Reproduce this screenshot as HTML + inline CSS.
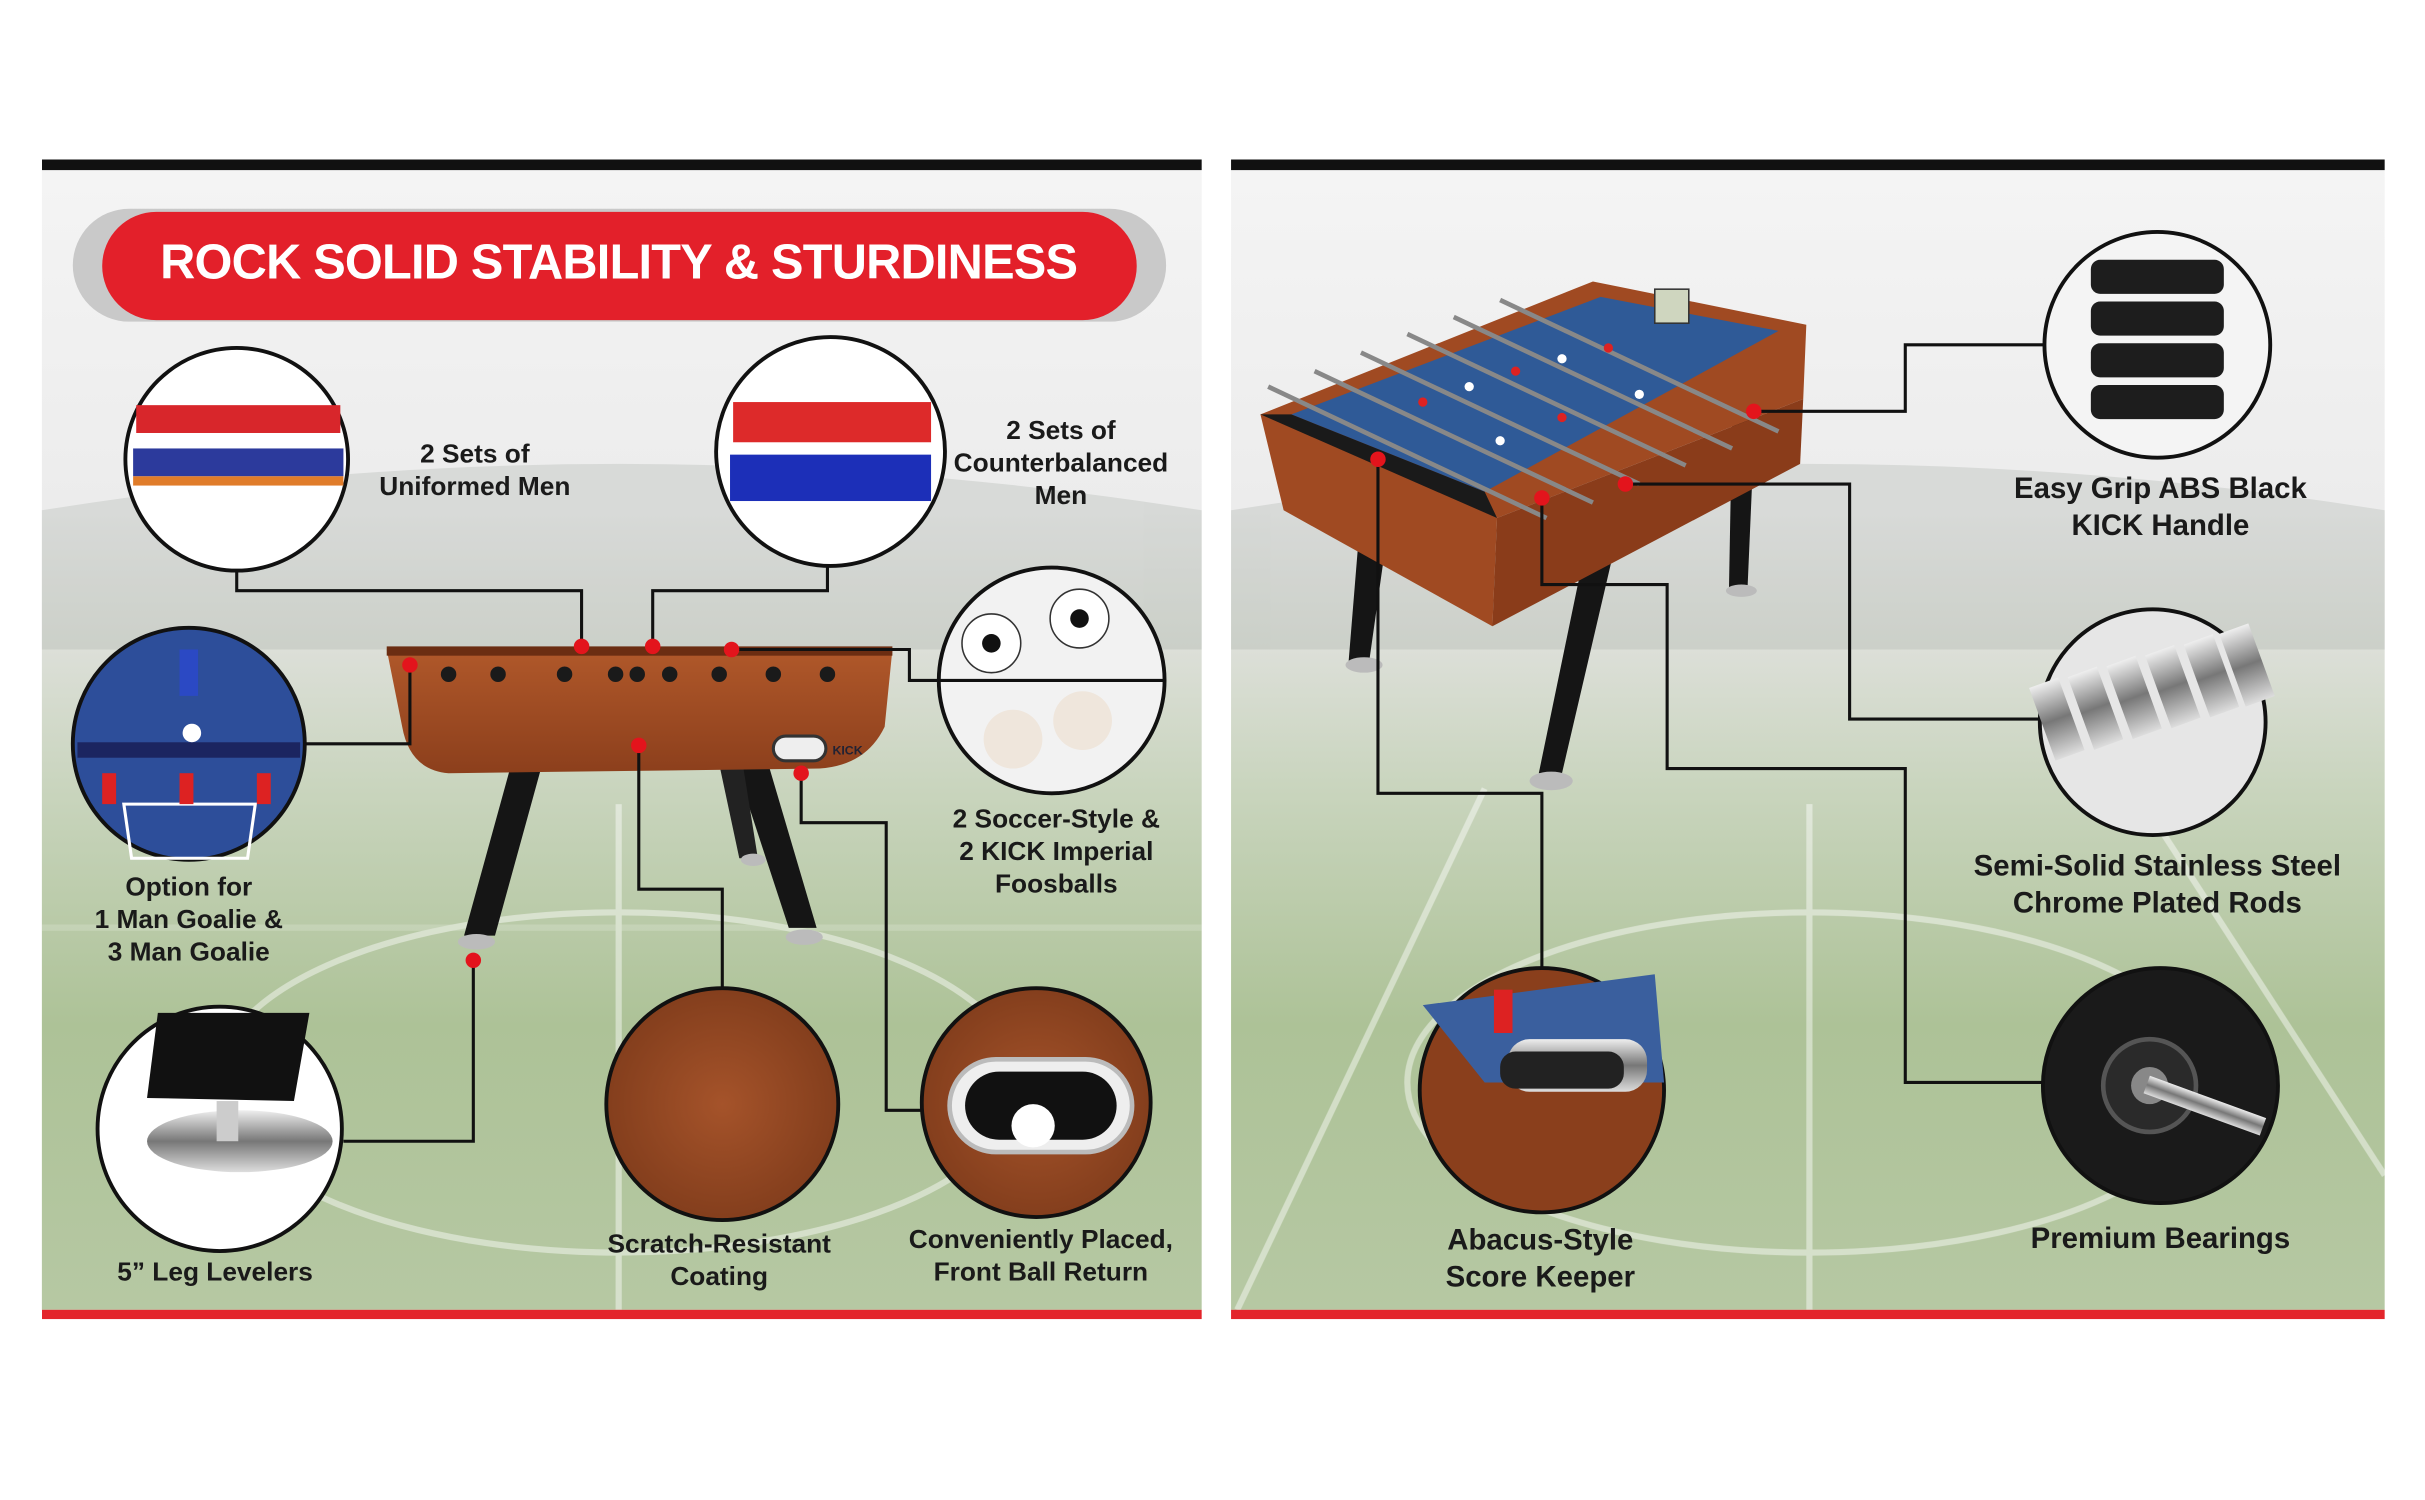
<!DOCTYPE html>
<html><head><meta charset="utf-8"><style>
html,body{margin:0;padding:0;background:#fff;}
svg{display:block;}
text{font-family:"Liberation Sans",sans-serif;font-weight:bold;fill:#1a1a1a;text-anchor:middle;}
</style></head><body>
<svg width="2425" height="1500" viewBox="0 0 1568 970" xmlns="http://www.w3.org/2000/svg">
<defs>
<linearGradient id="bg" x1="0" y1="0" x2="0" y2="1">
<stop offset="0" stop-color="#f4f4f4"/>
<stop offset="0.3" stop-color="#ececec"/>
<stop offset="0.42" stop-color="#dcdfd8"/>
<stop offset="0.55" stop-color="#c8d4bc"/>
<stop offset="0.75" stop-color="#adc297"/>
<stop offset="1" stop-color="#b6c8a3"/>
</linearGradient>
<linearGradient id="wood" x1="0" y1="0" x2="0" y2="1">
<stop offset="0" stop-color="#b0582a"/><stop offset="1" stop-color="#8c3f1c"/>
</linearGradient>
<radialGradient id="woodR" cx="0.5" cy="0.5" r="0.6">
<stop offset="0" stop-color="#a5532a"/><stop offset="1" stop-color="#7d3a1a"/>
</radialGradient>
<linearGradient id="chrome" x1="0" y1="0" x2="0" y2="1">
<stop offset="0" stop-color="#eee"/><stop offset="0.5" stop-color="#777"/><stop offset="1" stop-color="#ddd"/>
</linearGradient>
<clipPath id="cL"><rect x="27" y="110" width="750" height="737"/></clipPath>
<clipPath id="cR"><rect x="796" y="110" width="746" height="737"/></clipPath>
</defs>

<rect x="27" y="110" width="750" height="737" fill="url(#bg)"/>
<rect x="796" y="110" width="746" height="737" fill="url(#bg)"/>
<g opacity="0.25">
<path d="M27 330 Q400 270 777 330 L777 420 L27 420Z" fill="#9aa39a"/>
<path d="M796 330 Q1170 270 1542 330 L1542 420 L796 420Z" fill="#9aa39a"/>
</g>
<g stroke="#fff" stroke-width="4" fill="none" opacity="0.45">
<g clip-path="url(#cL)">
<ellipse cx="400" cy="700" rx="260" ry="110"/>
<line x1="400" y1="520" x2="400" y2="847"/>
<line x1="27" y1="600" x2="777" y2="600" opacity="0.4"/>
</g>
<g clip-path="url(#cR)">
<ellipse cx="1170" cy="700" rx="260" ry="110"/>
<line x1="1170" y1="520" x2="1170" y2="847"/>
<line x1="960" y1="510" x2="800" y2="847"/>
<line x1="1380" y1="510" x2="1542" y2="760"/>
</g>
</g>
<rect x="27" y="103" width="750" height="7" fill="#111"/>
<rect x="796" y="103" width="746" height="7" fill="#111"/>
<rect x="27" y="847" width="750" height="6" fill="#e3252b"/>
<rect x="796" y="847" width="746" height="6" fill="#e3252b"/>

<rect x="47" y="135" width="707" height="73" rx="36.5" fill="#c9c9c9"/>
<rect x="66" y="137" width="669" height="70" rx="35" fill="#e3202a"/>
<text x="400" y="180" font-size="31.5" style="fill:#fff" letter-spacing="-0.5">ROCK SOLID STABILITY &amp; STURDINESS</text>

<g>
<polygon points="335,478 355,478 320,605 300,605" fill="#151515"/>
<polygon points="470,478 492,478 528,600 510,600" fill="#151515"/>
<polygon points="462,480 478,480 490,555 478,555" fill="#222"/>
<ellipse cx="308" cy="609" rx="12" ry="5" fill="#bbb"/>
<ellipse cx="520" cy="606" rx="12" ry="5" fill="#bbb"/>
<ellipse cx="487" cy="556" rx="8" ry="4" fill="#bbb"/>
<path d="M250 420 L577 420 L572 470 Q560 495 530 497 L290 500 Q265 498 260 470 Z" fill="url(#wood)"/>
<rect x="250" y="418" width="327" height="6" fill="#6b2d12"/>
<g fill="#1a1a1a">
<circle cx="290" cy="436" r="5"/><circle cx="322" cy="436" r="5"/><circle cx="365" cy="436" r="5"/>
<circle cx="398" cy="436" r="5"/><circle cx="433" cy="436" r="5"/><circle cx="465" cy="436" r="5"/>
<circle cx="500" cy="436" r="5"/><circle cx="535" cy="436" r="5"/><circle cx="412" cy="436" r="5"/>
</g>
<rect x="500" y="476" width="34" height="16" rx="8" fill="#eee" stroke="#333" stroke-width="2"/>
<text x="548" y="488" font-size="8" style="fill:#223">KICK</text>
</g>

<g stroke="#111" stroke-width="2" fill="none">
<polyline points="153,369 153,382 376,382 376,418"/>
<polyline points="535,366 535,382 422,382 422,418"/>
<polyline points="197,481 265,481 265,430"/>
<polyline points="473,420 588,420 588,440 610,440"/>
<polyline points="222,738 306,738 306,621"/>
<polyline points="413,482 413,575 467,575 467,638"/>
<polyline points="518,500 518,532 573,532 573,718 596,718"/>
</g>
<g fill="#e3141c">
<circle cx="376" cy="418" r="5"/><circle cx="422" cy="418" r="5"/><circle cx="473" cy="420" r="5"/>
<circle cx="265" cy="430" r="5"/><circle cx="306" cy="621" r="5"/><circle cx="413" cy="482" r="5"/><circle cx="518" cy="500" r="5"/>
</g>

<circle cx="153" cy="297" r="72" fill="#fff" stroke="#111" stroke-width="2.5"/>
<rect x="88" y="262" width="132" height="18" fill="#d8262b"/>
<rect x="86" y="290" width="136" height="18" fill="#2c3a9c"/>
<rect x="86" y="308" width="136" height="6" fill="#e07c2a"/>
<circle cx="537" cy="292" r="74" fill="#fff" stroke="#111" stroke-width="2.5"/>
<rect x="474" y="260" width="128" height="26" fill="#dd2a2a"/>
<rect x="472" y="294" width="130" height="30" fill="#1c2fb8"/>
<circle cx="122" cy="481" r="75" fill="#2d4e9a" stroke="#111" stroke-width="2.5"/>
<rect x="50" y="480" width="144" height="10" fill="#1b2560"/>
<path d="M80 520 L165 520 L160 555 L85 555Z" fill="none" stroke="#fff" stroke-width="2"/>
<rect x="116" y="420" width="12" height="30" fill="#2b49c4"/>
<circle cx="124" cy="474" r="6" fill="#fff"/>
<g fill="#d22"><rect x="66" y="500" width="9" height="20"/><rect x="116" y="500" width="9" height="20"/><rect x="166" y="500" width="9" height="20"/></g>
<circle cx="680" cy="440" r="73" fill="#f2f2f2" stroke="#111" stroke-width="2.5"/>
<line x1="607" y1="440" x2="753" y2="440" stroke="#111" stroke-width="2"/>
<circle cx="641" cy="416" r="19" fill="#fff" stroke="#333" stroke-width="1"/>
<circle cx="698" cy="400" r="19" fill="#fff" stroke="#333" stroke-width="1"/>
<circle cx="641" cy="416" r="6" fill="#111"/><circle cx="698" cy="400" r="6" fill="#111"/>
<circle cx="655" cy="478" r="19" fill="#efe6dc"/><circle cx="700" cy="466" r="19" fill="#efe6dc"/>
<circle cx="142" cy="730" r="79" fill="#fff" stroke="#111" stroke-width="2.5"/>
<polygon points="102,655 200,655 190,712 95,710" fill="#111"/>
<ellipse cx="155" cy="738" rx="60" ry="20" fill="url(#chrome)"/>
<rect x="140" y="712" width="14" height="26" fill="#ccc"/>
<circle cx="467" cy="714" r="75" fill="url(#woodR)" stroke="#111" stroke-width="2.5"/>
<circle cx="670" cy="713" r="74" fill="url(#woodR)" stroke="#111" stroke-width="2.5"/>
<rect x="614" y="685" width="118" height="60" rx="30" fill="#eee" stroke="#bbb" stroke-width="3"/>
<rect x="624" y="693" width="98" height="44" rx="22" fill="#111"/>
<circle cx="668" cy="728" r="14" fill="#fff"/>

<g font-size="17">
<text x="307" y="299">2 Sets of</text><text x="307" y="320">Uniformed Men</text>
<text x="686" y="284">2 Sets of</text><text x="686" y="305">Counterbalanced</text><text x="686" y="326">Men</text>
<text x="122" y="579">Option for</text><text x="122" y="600">1 Man Goalie &amp;</text><text x="122" y="621">3 Man Goalie</text>
<text x="683" y="535">2 Soccer-Style  &amp;</text><text x="683" y="556">2 KICK Imperial</text><text x="683" y="577">Foosballs</text>
<text x="139" y="828">5” Leg Levelers</text>
<text x="465" y="810">Scratch-Resistant</text><text x="465" y="831">Coating</text>
<text x="673" y="807">Conveniently Placed,</text><text x="673" y="828">Front Ball Return</text>
</g>

<g>
<polygon points="880,330 898,338 885,430 872,428" fill="#151515"/>
<polygon points="1025,355 1045,350 1010,500 995,500" fill="#151515"/>
<polygon points="1120,270 1135,265 1130,380 1118,380" fill="#151515"/>
<ellipse cx="882" cy="430" rx="12" ry="5" fill="#bbb"/>
<ellipse cx="1003" cy="505" rx="14" ry="6" fill="#bbb"/>
<ellipse cx="1126" cy="382" rx="10" ry="4" fill="#bbb"/>
<polygon points="815,268 1030,182 1168,210 1166,258 968,335 965,405 830,330" fill="#a04a22"/>
<polygon points="968,335 1166,258 1164,300 965,405" fill="#8a3c1a"/>
<polygon points="835,268 1035,192 1150,214 960,318" fill="#2f5a97"/>
<polygon points="815,268 835,268 960,318 968,335" fill="#1a1a1a"/>
<rect x="1070" y="187" width="22" height="22" fill="#cfd6bf" stroke="#333"/>
<g stroke="#888" stroke-width="3">
<line x1="820" y1="250" x2="1000" y2="335"/><line x1="850" y1="240" x2="1030" y2="325"/>
<line x1="880" y1="228" x2="1060" y2="313"/><line x1="910" y1="216" x2="1090" y2="301"/>
<line x1="940" y1="205" x2="1120" y2="290"/><line x1="970" y1="194" x2="1150" y2="279"/>
</g>
<g fill="#d22"><circle cx="920" cy="260" r="3"/><circle cx="980" cy="240" r="3"/><circle cx="1040" cy="225" r="3"/><circle cx="1010" cy="270" r="3"/></g>
<g fill="#fff"><circle cx="950" cy="250" r="3"/><circle cx="1010" cy="232" r="3"/><circle cx="970" cy="285" r="3"/><circle cx="1060" cy="255" r="3"/></g>
</g>

<g stroke="#111" stroke-width="2" fill="none">
<polyline points="1134,266 1232,266 1232,223 1322,223"/>
<polyline points="1051,313 1196,313 1196,465 1320,465"/>
<polyline points="997,322 997,378 1078,378 1078,497 1232,497 1232,700 1322,700"/>
<polyline points="891,297 891,513 997,513 997,627"/>
</g>
<g fill="#e3141c">
<circle cx="1134" cy="266" r="5"/><circle cx="1051" cy="313" r="5"/><circle cx="997" cy="322" r="5"/><circle cx="891" cy="297" r="5"/>
</g>

<circle cx="1395" cy="223" r="73" fill="#f4f4f4" stroke="#111" stroke-width="2.5"/>
<g fill="#1d1d1d">
<rect x="1352" y="168" width="86" height="22" rx="6"/><rect x="1352" y="195" width="86" height="22" rx="6"/>
<rect x="1352" y="222" width="86" height="22" rx="6"/><rect x="1352" y="249" width="86" height="22" rx="6"/>
</g>
<circle cx="1392" cy="467" r="73" fill="#e6e6e6" stroke="#111" stroke-width="2.5"/>
<g fill="url(#chrome)">
<rect x="1320" y="440" width="20" height="50" transform="rotate(-20 1330 465)"/>
<rect x="1345" y="433" width="20" height="50" transform="rotate(-20 1355 458)"/>
<rect x="1370" y="426" width="20" height="50" transform="rotate(-20 1380 451)"/>
<rect x="1395" y="419" width="20" height="50" transform="rotate(-20 1405 444)"/>
<rect x="1420" y="412" width="20" height="50" transform="rotate(-20 1430 437)"/>
<rect x="1443" y="405" width="20" height="50" transform="rotate(-20 1453 430)"/>
</g>
<circle cx="997" cy="705" r="79" fill="#8a3f1c" stroke="#111" stroke-width="2.5"/>
<polygon points="920,650 1070,630 1076,700 960,700" fill="#3a5f9e"/>
<rect x="975" y="672" width="90" height="34" rx="14" fill="url(#chrome)"/>
<rect x="970" y="680" width="80" height="24" rx="10" fill="#222"/>
<rect x="966" y="640" width="12" height="28" fill="#d22"/>
<circle cx="1397" cy="702" r="76" fill="#1a1a1a" stroke="#111" stroke-width="2.5"/>
<circle cx="1390" cy="702" r="30" fill="#2a2a2a" stroke="#555" stroke-width="3"/>
<circle cx="1390" cy="702" r="12" fill="#888"/>
<rect x="1388" y="696" width="80" height="12" fill="url(#chrome)" transform="rotate(20 1390 702)"/>

<g font-size="19">
<text x="1397" y="322">Easy Grip ABS Black</text><text x="1397" y="346">KICK Handle</text>
<text x="1395" y="566">Semi-Solid Stainless Steel</text><text x="1395" y="590">Chrome Plated Rods</text>
<text x="996" y="808">Abacus-Style</text><text x="996" y="832">Score Keeper</text>
<text x="1397" y="807">Premium Bearings</text>
</g>
</svg>
</body></html>
